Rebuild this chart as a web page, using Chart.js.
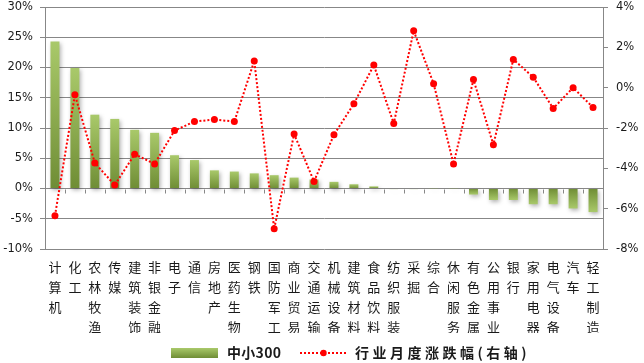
<!DOCTYPE html>
<html><head><meta charset="utf-8">
<script src="https://cdn.jsdelivr.net/npm/chart.js@4"></script>
<style>html,body{margin:0;padding:0;background:#fff}#wrap{width:644px;height:363px}</style>
</head><body><div id="wrap"><canvas id="c" width="644" height="363"></canvas></div>
<script>
const categories = ['计算机','化工','农林牧渔','传媒','建筑装饰','非银金融','电子','通信','房地产','医药生物','钢铁','国防军工','商业贸易','交通运输','机械设备','建筑材料','食品饮料','纺织服装','采掘','综合','休闲服务','有色金属','公用事业','银行','家用电器','电气设备','汽车','轻工制造'];
const barValues = [24.3,19.9,12.2,11.5,9.7,9.2,5.5,4.7,3.0,2.8,2.5,2.2,1.8,1.5,1.1,0.7,0.35,-0.1,-0.1,-0.05,-0.05,-1.0,-1.9,-1.9,-2.6,-2.6,-3.3,-3.9];
const lineValues = [-6.35,-0.35,-3.73,-4.83,-3.3,-3.78,-2.13,-1.68,-1.58,-1.68,1.32,-7.0,-2.3,-4.65,-2.33,-0.8,1.12,-1.78,2.82,0.2,-3.78,0.4,-2.83,1.4,0.52,-1.03,0.0,-0.98];
const leftAxis = {min:-10, max:30, step:5};
const rightAxis = {min:-8, max:4, step:2};
const barName = '中小300';
const lineName = '行业月度涨跌幅(右轴)';

const GRID = '#878787';
const TXT = '#1a1a1a';
const tickFont = {family:'DejaVu Sans', size:11.5};

function barGradient(ctx, y0, y1){
  const g = ctx.createLinearGradient(0, y0, 0, y1);
  g.addColorStop(0, '#a9c96a');
  g.addColorStop(1, '#6f8d35');
  return g;
}

const shadowPlugin = {
  id:'barShadow',
  beforeDatasetDraw(chart, args){
    if (args.index !== 1) return;
    const c = chart.ctx; c.save();
    c.shadowColor = 'rgba(0,0,0,0.30)'; c.shadowBlur = 4; c.shadowOffsetX = 1.5; c.shadowOffsetY = 2;
  },
  afterDatasetDraw(chart, args){
    if (args.index !== 1) return;
    chart.ctx.restore();
  }
};

const zeroTicks = {
  id:'zeroTicks',
  beforeDatasetsDraw(chart){
    const x = chart.scales.x, y = chart.scales.y, c = chart.ctx;
    const y0 = Math.round(y.getPixelForValue(0)) + 0.5;
    const n = categories.length;
    c.save(); c.strokeStyle = GRID; c.lineWidth = 1;
    c.beginPath();
    for (let k = 0; k <= n; k++){
      const px = Math.round(x.left + (x.right - x.left) * k / n) + 0.5;
      c.moveTo(px, y0); c.lineTo(px, y0 + 4);
    }
    c.stroke(); c.restore();
  }
};

const legendPlugin = {
  id:'customLegend',
  afterDraw(chart){
    const c = chart.ctx; c.save();
    const cy = 353;
    c.fillStyle = barGradient(c, 348, 358);
    c.fillRect(171, 348, 47, 10);
    c.font = 'bold 14px "Noto Sans CJK SC"';
    c.fillStyle = TXT; c.textBaseline = 'middle'; c.textAlign = 'left';
    c.letterSpacing = '0.3px';
    c.fillText(barName, 227, cy);
    c.strokeStyle = '#ff0000'; c.lineWidth = 2; c.setLineDash([2,2]);
    c.beginPath(); c.moveTo(300, cy); c.lineTo(347, cy); c.stroke();
    c.setLineDash([]);
    c.fillStyle = '#ff0000'; c.beginPath(); c.arc(323.5, cy, 3.2, 0, Math.PI*2); c.fill();
    c.fillStyle = TXT;
    c.letterSpacing = '3.5px';
    c.fillText(lineName, 355, cy);
    c.restore();
  }
};

new Chart(document.getElementById('c'), {
  data:{
    labels: categories.map(s => s.split('')),
    datasets:[
      {type:'line', label:lineName, data:lineValues, yAxisID:'y1', order:0,
       borderColor:'#ff0000', borderWidth:2, borderDash:[2,2], tension:0,
       pointRadius:3.5, pointBackgroundColor:'#ff0000', pointBorderWidth:0, pointHoverRadius:3.5},
      {type:'bar', label:barName, data:barValues, yAxisID:'y', order:1,
       barPercentage:0.45, categoryPercentage:1,
       backgroundColor:(ctx)=>{
         const ch = ctx.chart, y = ch.scales.y;
         if (!y || ctx.type !== 'data') return '#8db04a';
         const yt = y.getPixelForValue(ctx.raw), yb = y.getPixelForValue(0);
         if (!isFinite(yt) || Math.abs(yt-yb) < 0.5) return '#8db04a';
         return barGradient(ch.ctx, yt, yb);
       }}
    ]
  },
  options:{
    responsive:false, animation:false,
    layout:{padding:{top:7, bottom:30, left:0, right:0}},
    plugins:{legend:{display:false}, tooltip:{enabled:false}},
    scales:{
      x:{
        grid:{display:false, drawTicks:false}, border:{display:false},
        ticks:{autoSkip:false, maxRotation:0, minRotation:0, padding:8, color:TXT,
               font:{family:'"Noto Sans CJK SC"', size:13, lineHeight:20/13}},
        afterFit(s){ s.height = 84; s.paddingLeft = 0; s.paddingRight = 0; }
      },
      y:{
        position:'left', min:leftAxis.min, max:leftAxis.max,
        grid:{color:GRID, lineWidth:1, tickLength:5, drawTicks:true},
        border:{display:true, color:GRID},
        ticks:{stepSize:leftAxis.step, padding:7, color:TXT, font:tickFont, callback:v=>v+'%'},
        afterFit(s){ s.width = 45; s.paddingTop = 0; s.paddingBottom = 0; }
      },
      y1:{
        position:'right', min:rightAxis.min, max:rightAxis.max,
        grid:{drawOnChartArea:false, color:GRID, tickLength:5},
        border:{display:true, color:GRID},
        ticks:{stepSize:rightAxis.step, padding:8, color:TXT, font:tickFont, callback:v=>v+'%'},
        afterFit(s){ s.width = 41; s.paddingTop = 0; s.paddingBottom = 0; }
      }
    }
  },
  plugins:[shadowPlugin, zeroTicks, legendPlugin]
});
</script>
</body></html>
